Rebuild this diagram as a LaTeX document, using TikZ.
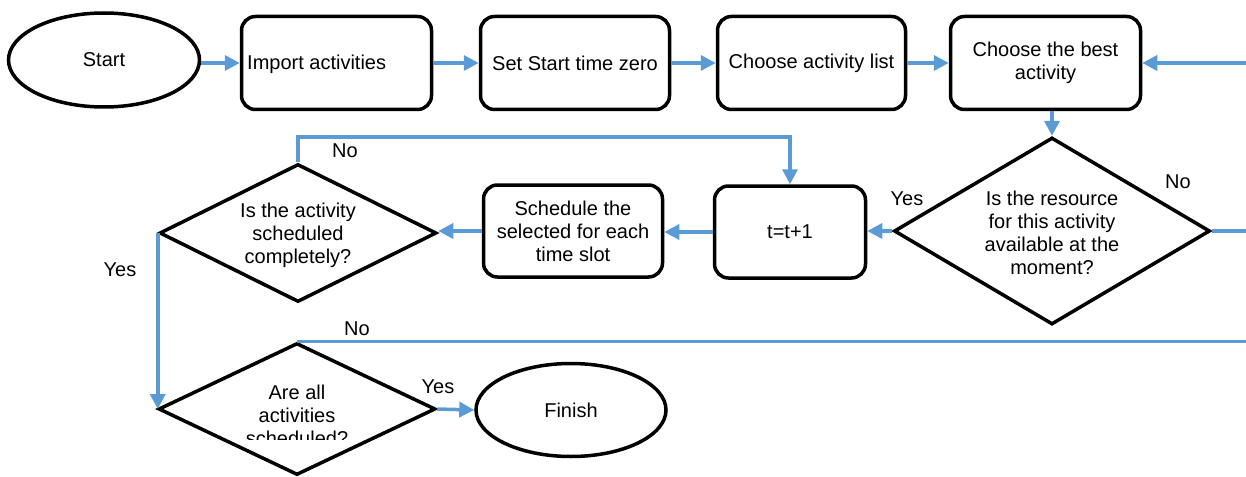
\documentclass[tikz,border=0pt]{standalone}
\usepackage{fontspec}
\setmainfont{Liberation Sans}
\usetikzlibrary{shapes.geometric,arrows.meta}
\definecolor{flowblue}{HTML}{5B9BD5}
\tikzset{
  lbl/.style={font=\fontsize{20}{23}\selectfont, inner sep=0pt, align=center},
  box/.style={lbl, draw=black, line width=3.5pt, rounded corners=14pt, minimum height=93pt},
  term/.style={lbl, ellipse, draw=black, line width=3.5pt, minimum width=191pt, minimum height=94pt},
  dia/.style={diamond, draw=black, line width=3.5pt, inner sep=0pt},
  flow/.style={draw=flowblue, line width=3.5pt},
  arr/.style={flow, -{Triangle[length=15pt,width=15pt]}}
}
\begin{document}
\begin{tikzpicture}[x=1pt,y=-1pt]
\useasboundingbox (0,0) rectangle (1246,476);
% top row
\node[term] (start) at (104,60) {Start};
\node[box, minimum width=190pt] (imp) at (336.5,63) {};
\node[lbl, anchor=west] (imptxt) at (247,64) {Import activities};
\node[box, minimum width=189pt] (set) at (575,63) {Set Start time zero};
\node[box, minimum width=188pt] (cal) at (811.5,63) {Choose activity list};
\node[box, minimum width=190pt] (best) at (1045.5,63) {Choose the best\\activity};
% middle row
\node[dia, minimum width=316pt, minimum height=187pt] (d1) at (1052,231) {};
\node[lbl] (d1txt) at (1052,233) {Is the resource\\for this activity\\available at the\\moment?};
\node[box, minimum width=151pt, minimum height=92pt] (tbox) at (790,232) {t=t+1};
\node[box, minimum width=179pt, minimum height=92pt] (sched) at (573,231) {Schedule the\\selected for each\\time slot};
\node[dia, minimum width=277pt, minimum height=138pt] (d2) at (298,233) {};
\node[lbl] (d2txt) at (298,235) {Is the activity\\scheduled\\completely?};
% bottom row
\node[dia, minimum width=277pt, minimum height=132pt] (d3) at (297,409) {};
\begin{scope}
\clip (150,340) rectangle (450,439);
\node[lbl] (d3txt) at (297,415) {Are all\\activities\\scheduled?};
\end{scope}
\node[term, minimum width=190pt, minimum height=93pt] (finish) at (571,410) {Finish};
% free ends at the right edge
\coordinate (rb1) at (1246,63);
\coordinate (rb2) at (1246,231);
\coordinate (rb3) at (1246,344);
\coordinate (nocorner) at (0,137);
% connectors
\draw[arr] (start.east |- imp.west) -- (imp.west);
\draw[arr] (imp.east) -- (set.west);
\draw[arr] (set.east) -- (cal.west);
\draw[arr] (cal.east) -- (best.west);
\draw[arr] (rb1) -- (best.east);
\draw[arr] (best.south -| d1.north) -- (d1.north);
\draw[flow] (d1.east) -- (rb2);
\draw[arr] (d1.west) -- (tbox.east |- d1.west);
\draw[arr] (tbox.west) -- (sched.east |- tbox.west);
\draw[arr] (sched.west) -- (d2.east |- sched.west);
\draw[arr] (d2.north) -- (d2.north |- nocorner) -| (tbox.north);
\draw[arr] (d2.west) -- (d2.west |- d3.west);
\draw[flow] (d3.north) -- (d3.north -| rb3);
\draw[arr] (d3.east) -- (finish.west);
% labels
\node[lbl] (l1) at (1178,182) {No};
\node[lbl] (l2) at (907,199) {Yes};
\node[lbl] (l3) at (345,151) {No};
\node[lbl] (l4) at (120,270) {Yes};
\node[lbl] (l5) at (357,329) {No};
\node[lbl] (l6) at (438,387) {Yes};
\end{tikzpicture}
\end{document}
